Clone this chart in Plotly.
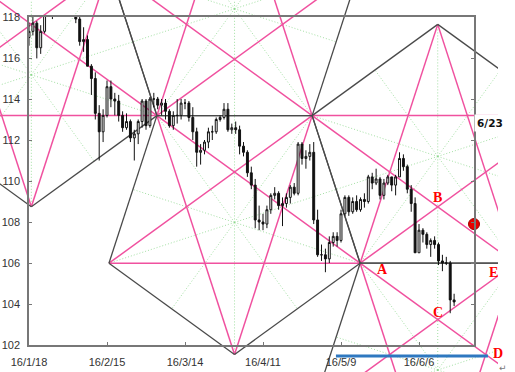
import numpy as np
import pandas as pd
import plotly.graph_objects as go

# ---------------- data (USD/JPY daily) ----------------
DATES = [d.strftime("%Y-%m-%d") for d in pd.bdate_range("2016-01-18", "2016-06-17")]

OPEN = [117.0, 117.3, 117.7, 116.5, 117.3, 118.7, 118.3, 118.4, 118.7, 118.7,
        121.1, 121.0, 119.9, 117.9, 116.8, 116.9, 115.6, 115.0, 113.3, 112.4,
        113.2, 114.6, 114.0, 113.9, 113.2, 112.6, 112.9, 112.1, 112.3, 112.9,
        113.9, 112.7, 114.0, 114.0, 113.7, 113.8, 113.4, 112.7, 113.2, 113.2,
        113.8, 113.8, 113.1, 112.4, 111.4, 111.5, 111.9, 112.4, 112.4, 113.0,
        113.1, 113.5, 112.5, 112.6, 112.5, 111.7, 111.4, 110.4, 109.8, 108.1,
        108.0, 107.9, 108.6, 109.3, 109.4, 108.8, 108.9, 109.2, 109.7, 109.4,
        111.8, 111.1, 111.2, 111.4, 108.1, 106.4, 106.4, 106.2, 107.0, 107.3,
        107.1, 108.4, 109.2, 108.5, 109.0, 108.6, 109.1, 109.0, 110.2, 109.9,
        110.1, 109.3, 109.9, 110.2, 109.8, 110.2, 111.1, 110.7, 109.6, 108.9,
        106.5, 107.6, 107.4, 106.9, 107.1, 106.9, 106.1, 106.0, 106.0, 104.2]
HIGH = [117.7, 118.0, 117.8, 117.6, 118.9, 118.9, 118.5, 119.0, 119.1, 121.7,
        121.5, 121.1, 120.1, 118.0, 117.5, 117.1, 115.7, 115.3, 113.7, 113.5,
        114.9, 114.9, 114.3, 114.2, 113.4, 113.3, 113.0, 112.5, 113.0, 114.0,
        114.0, 114.1, 114.3, 114.1, 114.0, 114.0, 113.5, 113.4, 114.0, 114.0,
        114.0, 113.9, 113.6, 112.6, 111.8, 112.0, 112.6, 112.7, 113.1, 113.2,
        113.8, 113.8, 112.8, 112.9, 112.7, 111.9, 111.5, 110.7, 110.1, 108.8,
        108.4, 108.8, 109.4, 109.7, 109.5, 109.2, 109.4, 109.8, 109.9, 111.9,
        111.9, 111.5, 111.8, 111.9, 108.6, 106.9, 106.7, 107.3, 107.5, 107.5,
        108.6, 109.3, 109.3, 109.2, 109.3, 109.2, 109.4, 110.3, 110.4, 110.6,
        110.2, 110.1, 110.3, 110.2, 110.3, 111.4, 111.3, 110.8, 109.8, 109.2,
        107.9, 107.7, 107.5, 107.2, 107.3, 107.0, 106.4, 106.3, 106.1, 104.5]
LOW = [116.6, 117.1, 115.98, 116.2, 117.2, 118.1, 117.9, 118.1, 118.3, 118.0,
       120.7, 119.6, 117.7, 116.6, 116.3, 115.6, 114.2, 113.0, 111.0, 111.9,
       113.1, 113.6, 113.2, 112.9, 112.4, 112.5, 111.9, 111.0, 111.8, 112.6,
       112.5, 112.6, 113.6, 113.5, 113.2, 113.0, 112.6, 112.5, 112.8, 113.0,
       113.5, 112.9, 112.0, 110.7, 110.8, 111.3, 111.6, 112.0, 112.3, 112.9,
       113.0, 112.4, 112.3, 112.3, 111.3, 111.2, 110.2, 109.6, 107.7, 107.6,
       107.6, 107.7, 108.4, 109.1, 108.6, 107.8, 108.7, 108.9, 109.3, 109.3,
       110.8, 110.6, 111.0, 107.9, 106.3, 106.1, 105.55, 106.0, 106.8, 106.8,
       107.0, 108.3, 108.3, 108.4, 108.5, 108.5, 108.7, 108.9, 109.6, 109.8,
       109.1, 109.1, 109.8, 109.5, 109.3, 110.2, 110.5, 109.4, 108.5, 106.5,
       106.5, 107.0, 106.7, 106.3, 106.7, 105.9, 105.6, 105.9, 103.55, 103.9]
CLOSE = [117.3, 117.7, 116.5, 117.3, 118.8, 118.3, 118.4, 118.7, 118.7, 121.1,
         121.0, 119.9, 117.9, 116.8, 116.9, 115.6, 115.0, 113.3, 112.4, 113.2,
         114.6, 114.0, 113.9, 113.2, 112.6, 112.9, 112.1, 112.3, 112.9, 113.9,
         112.7, 114.0, 114.0, 113.7, 113.8, 113.4, 112.7, 113.2, 113.2, 113.8,
         113.8, 113.1, 112.4, 111.4, 111.5, 111.9, 112.4, 112.4, 113.0, 113.1,
         113.5, 112.5, 112.6, 112.5, 111.7, 111.4, 110.4, 109.8, 108.1, 108.0,
         107.9, 108.6, 109.3, 109.4, 108.8, 108.9, 109.2, 109.7, 109.4, 111.8,
         111.1, 111.2, 111.4, 108.1, 106.4, 106.4, 106.2, 107.0, 107.3, 107.1,
         108.4, 109.2, 108.5, 109.0, 108.6, 109.1, 109.0, 110.2, 109.9, 110.1,
         109.3, 109.9, 110.2, 109.8, 110.2, 111.1, 110.7, 109.6, 108.9, 106.5,
         107.6, 107.4, 106.9, 107.1, 106.9, 106.1, 106.0, 106.0, 104.2, 104.1]

TICK_DATES = ["2016-01-18", "2016-02-15", "2016-03-14", "2016-04-11", "2016-05-09", "2016-06-06"]
TICK_TEXT = ["16/1/18", "16/2/15", "16/3/14", "16/4/11", "16/5/9", "16/6/6"]
Y_TICKS = [102, 104, 106, 108, 110, 112, 114, 116, 118]

# Base pentagon, as (trading-day index, price): V, P2, S1, S2, A
PENT_X = [52.7, 20.5, 32.8, 72.6, 84.9]
PENT_Y = [101.54, 105.99, 113.19, 113.19, 105.99]

BLUE_START_X = 78.7      # start of blue support line (trading-day index)
BLUE_LEVEL = 101.46      # price level of blue line
DOT_X, DOT_Y = 114.1, 107.9   # red marker
MARK_X, MARK_Y = 114.1, 112.85   # "6/23" note
E_X = 119.0

# ---------------- layout constants ----------------
W, H = 515, 372
FX0, FX1, FY0, FY1 = 29, 474, 17, 345        # frame in pixels
XR = [0, 114.1]
YR = [102, 118]
pxd = (FX1 - FX0) / (XR[1] - XR[0])
pyd = (FY1 - FY0) / (YR[1] - YR[0])
CLIPX = 498
gx_range = [XR[0] - FX0 / pxd, XR[0] + (CLIPX - FX0) / pxd]
gy_range = [YR[0] - (H - FY1) / pyd, YR[1] + FY0 / pyd]

idx = list(range(len(DATES)))
tickvals = [DATES.index(d) for d in TICK_DATES]

# ---------------- geometry construction ----------------
P = np.column_stack([PENT_X, PENT_Y])
t = P[4] - P[2]
def refl(Q):
    return np.column_stack([Q[:, 0], 2 * P[2, 1] - Q[:, 1]])
D1 = P
D2 = P - t
D4 = P + t
U1 = refl(P)
U3 = U1 + t
pents = [D2, D1, D4, U1, U3]

def seglist(pairs):
    xs, ys = [], []
    for a, b in pairs:
        xs += [a[0], b[0], None]
        ys += [a[1], b[1], None]
    return xs, ys

edges, diags, rays = [], [], []
for Q in pents:
    c = Q.mean(axis=0)
    for i in range(5):
        edges.append((Q[i], Q[(i + 1) % 5]))
        diags.append((Q[i], Q[(i + 2) % 5]))
        rays.append((c, Q[i]))
        rays.append((c, (Q[i] + Q[(i + 1) % 5]) / 2))

def intersect(p1, p2, p3, p4):
    d1 = p2 - p1
    d2 = p4 - p3
    M = np.array([[d1[0], -d2[0]], [d1[1], -d2[1]]])
    s, _ = np.linalg.solve(M, p3 - p1)
    return p1 + s * d1

A = D1[4]
B = intersect(U3[1], U3[3], U3[2], U3[4])
C = intersect(D4[2], D4[4], D4[3], D4[1])
Dp = intersect(D4[2], D4[4], np.array([0, BLUE_LEVEL]), np.array([1, BLUE_LEVEL]))

PINK = "#f0519f"
DARK = "#4a4a4a"
GREEN = "rgba(140,215,140,0.8)"

fig = go.Figure()

xs, ys = seglist(rays)
fig.add_trace(go.Scatter(x=xs, y=ys, mode="lines", xaxis="x", yaxis="y",
                         line=dict(color=GREEN, width=1, dash="1px,2px"),
                         hoverinfo="skip", showlegend=False))
xs, ys = seglist(diags)
fig.add_trace(go.Scatter(x=xs, y=ys, mode="lines", xaxis="x", yaxis="y",
                         line=dict(color=PINK, width=1.5),
                         hoverinfo="skip", showlegend=False))
xs, ys = seglist(edges)
fig.add_trace(go.Scatter(x=xs, y=ys, mode="lines", xaxis="x", yaxis="y",
                         line=dict(color=DARK, width=1.3),
                         hoverinfo="skip", showlegend=False))
fig.add_trace(go.Scatter(x=[BLUE_START_X, Dp[0]], y=[BLUE_LEVEL, BLUE_LEVEL], mode="lines",
                         xaxis="x", yaxis="y", line=dict(color="#2e78c0", width=3),
                         hoverinfo="skip", showlegend=False))

# candles
fig.add_trace(go.Candlestick(x=idx, open=OPEN, high=HIGH, low=LOW, close=CLOSE,
                             xaxis="x2", yaxis="y2", whiskerwidth=0,
                             increasing=dict(fillcolor="white", line=dict(color="#111", width=1)),
                             decreasing=dict(fillcolor="#111", line=dict(color="#111", width=1)),
                             hoverinfo="skip", showlegend=False))

fig.add_trace(go.Scatter(x=[DOT_X], y=[DOT_Y], mode="markers", xaxis="x", yaxis="y",
                         marker=dict(size=11, color="#e80000", line=dict(color="#a00000", width=1)),
                         hoverinfo="skip", showlegend=False))

lab = dict(family="Liberation Serif", size=14, color="#ff0000")
annots = [
    dict(x=A[0], y=A[1], text="<b>A</b>", xshift=22, yshift=-6),
    dict(x=B[0], y=B[1], text="<b>B</b>", xshift=0, yshift=9),
    dict(x=C[0], y=C[1], text="<b>C</b>", xshift=0, yshift=7),
    dict(x=Dp[0], y=Dp[1], text="<b>D</b>", xshift=10, yshift=3),
    dict(x=E_X, y=A[1], text="<b>E</b>", xshift=0, yshift=-9),
]
for a in annots:
    a.update(xref="x", yref="y", showarrow=False, font=lab, xanchor="center", yanchor="middle")
annots.append(dict(x=MARK_X, y=MARK_Y, xref="x", yref="y", text="<b>6/23</b>", showarrow=False,
                   xanchor="left", yanchor="middle", xshift=0, bgcolor="white", borderpad=2,
                   font=dict(family="DejaVu Sans", size=10.5, color="#111")))
annots.append(dict(x=503 / W, y=1 - 368 / H, xref="paper", yref="paper", text="↵", showarrow=False,
                   xanchor="center", yanchor="middle",
                   font=dict(family="DejaVu Sans", size=9, color="#777")))

axfont = dict(family="Liberation Sans", size=11, color="#333")
fig.update_layout(
    width=W, height=H, margin=dict(l=0, r=0, t=0, b=0, pad=0, autoexpand=False),
    paper_bgcolor="white", plot_bgcolor="rgba(0,0,0,0)",
    showlegend=False, annotations=annots,
    xaxis=dict(domain=[0, CLIPX / W], range=gx_range, visible=False, fixedrange=True,
               automargin=False),
    yaxis=dict(domain=[0, 1], range=gy_range, visible=False, fixedrange=True, automargin=False),
    xaxis2=dict(domain=[FX0 / W, FX1 / W], range=XR, anchor="y2", automargin=False,
                tickvals=tickvals, ticktext=TICK_TEXT, ticks="inside", ticklen=3,
                tickcolor="#777", showline=True, linecolor="#777", linewidth=1.5, mirror=True,
                showgrid=False, zeroline=False, tickfont=axfont, ticklabelstandoff=6,
                rangeslider=dict(visible=False)),
    yaxis2=dict(domain=[(H - FY1) / H, (H - FY0) / H], range=YR, anchor="x2", automargin=False,
                tickvals=Y_TICKS, ticks="inside", ticklen=3, tickcolor="#777",
                showline=True, linecolor="#777", linewidth=1.5, mirror="ticks",
                showgrid=False, zeroline=False, tickfont=axfont, ticklabelstandoff=5),
)

fig.write_html("out.html")
